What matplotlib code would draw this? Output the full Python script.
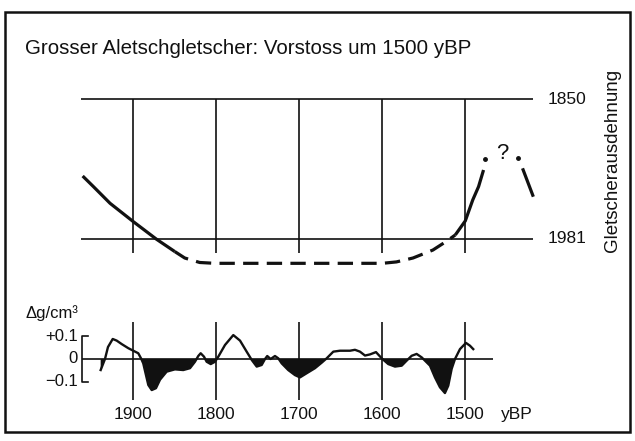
import matplotlib
matplotlib.use("Agg")
import matplotlib.pyplot as plt
import numpy as np
from matplotlib.patches import Rectangle

plt.rcParams['font.family'] = ['Liberation Sans', 'DejaVu Sans']

# glacier extent (1 = 1850 level, 0 = 1981 level)
solid_yr = [1961, 1948, 1928, 1900, 1872, 1850]
solid_ext = [0.45, 0.374, 0.255, 0.124, -0.002, -0.09]
dash_yr = [1850, 1838, 1820, 1802, 1700, 1600, 1583, 1563, 1539, 1522, 1512]
dash_ext = [-0.09, -0.136, -0.168, -0.174, -0.174, -0.174, -0.164, -0.136, -0.079, -0.014, 0.029]
rise_yr = [1512, 1500, 1491, 1484, 1478]
rise_ext = [0.029, 0.129, 0.279, 0.374, 0.493]
fall_yr = [1431, 1418]
fall_ext = [0.505, 0.302]
dot_yr = [1476, 1436.5]
dot_ext = [0.57, 0.58]

# density anomaly (g/cm3)
dg_yr = [1939.3, 1934.1, 1930.5, 1924.8, 1920.0, 1914.0, 1906.0, 1900, 1894.0, 1890.7,
         1888.0, 1884.7, 1881.9, 1877.8, 1872.7, 1867.8, 1859.8, 1849.8, 1839.8, 1831.7,
         1825.7, 1821.7, 1818.8, 1814.8, 1811.6, 1806.7, 1801.6, 1797.6, 1789.5, 1779.5,
         1771.4, 1763.4, 1757.3, 1751.3, 1745.3, 1741.3, 1738.6, 1734.5, 1729.3, 1725.3,
         1721.2, 1713.3, 1705.2, 1699.2, 1691.1, 1681.1, 1673.0, 1667.0, 1659.0, 1651.0,
         1638.9, 1632.9, 1626.9, 1620.8, 1614.8, 1607.6, 1600.4, 1592.8, 1584.7, 1576.6,
         1570.6, 1564.6, 1558.6, 1552.5, 1548.6, 1542.5, 1536.5, 1530.5, 1524.5, 1520.5,
         1516.4, 1512.4, 1506.4, 1499.2, 1494.4, 1490.4]
dg_val = [-0.048, 0.0, 0.052, 0.087, 0.08, 0.065, 0.047, 0.036, 0.025, 0.003,
          -0.019, -0.07, -0.113, -0.135, -0.127, -0.09, -0.055, -0.045, -0.048, -0.04,
          -0.012, 0.013, 0.025, 0.01, -0.012, -0.022, -0.012, 0.01, 0.061, 0.104,
          0.08, 0.032, -0.004, -0.033, -0.026, 0.0, 0.013, 0.0, 0.013, 0.003,
          -0.019, -0.048, -0.07, -0.08, -0.062, -0.04, -0.016, 0.003, 0.032, 0.036,
          0.036, 0.04, 0.032, 0.015, 0.02, 0.03, 0.002, -0.022, -0.033, -0.029,
          -0.007, 0.014, 0.022, 0.007, -0.007, -0.029, -0.08, -0.123, -0.148, -0.116,
          -0.043, 0.0, 0.043, 0.07, 0.058, 0.043]

grid_years = [1900, 1800, 1700, 1600, 1500]

W, H = 635, 441
fig = plt.figure(figsize=(W / 100, H / 100), dpi=100)
ink = '#111111'

def box(l, t, r, b):
    return [l / W, 1 - b / H, (r - l) / W, (b - t) / H]

# frame
fig.patches.append(Rectangle((5 / W, 1 - 432 / H), 625 / W, 420 / H, transform=fig.transFigure,
                             fill=False, lw=1.8, ec=ink))

fig.text(25 / W, 1 - 48 / H, 'Grosser Aletschgletscher: Vorstoss um 1500 yBP',
         fontsize=14.8, ha='left', va='center', color=ink)

# top panel
ax1 = fig.add_axes(box(81, 95, 533, 265))
ax1.set_xlim(1963, 1418.4)
ax1.set_ylim(-0.186, 1.029)
ax1.axis('off')
ax1.axhline(1, color=ink, lw=1.2)
ax1.axhline(0, color=ink, lw=1.2)
ax1.vlines(grid_years, -0.1, 1, color=ink, lw=1.2)
ax1.plot(solid_yr, solid_ext, color=ink, lw=2.3, solid_capstyle='butt', clip_on=False)
ax1.plot(dash_yr, dash_ext, color=ink, lw=2.3, ls=(0, (4.8, 2.6)), clip_on=False)
ax1.plot(rise_yr, rise_ext, color=ink, lw=2.3, solid_capstyle='butt', clip_on=False)
ax1.plot(fall_yr, fall_ext, color=ink, lw=2.3, solid_capstyle='butt', clip_on=False)
ax1.plot(dot_yr, dot_ext, 'o', color=ink, ms=2.5, clip_on=False)
ax1.text(1455, 0.61, '?', fontsize=16, ha='center', va='center', color=ink)
ax1.text(1400.4, 1, '1850', fontsize=12.5, ha='left', va='center', color=ink)
ax1.text(1400.4, 0, '1981', fontsize=12.5, ha='left', va='center', color=ink)
fig.text(612 / W, 1 - 160 / H, 'Gletscherausdehnung', rotation=90, fontsize=13.5,
         ha='center', va='center', color=ink)

# bottom panel
ax2 = fig.add_axes(box(81, 320, 533, 402))
ax2.set_xlim(1963, 1418.4)
ax2.set_ylim(-0.187, 0.1696)
ax2.axis('off')
ax2.hlines(0, 1961.5, 1467, color=ink, lw=1.2)
ax2.vlines(grid_years, -0.178, 0.161, color=ink, lw=1.2)
yr = np.array(dg_yr)
dg = np.array(dg_val)
ax2.fill_between(yr, dg, 0, where=dg < 0, interpolate=True, color=ink, lw=0)
ax2.plot(yr, dg, color=ink, lw=1.7)
ax2.plot([1954, 1961.5, 1961.5, 1954], [0.1, 0.1, -0.1, -0.1], color=ink, lw=1.2, clip_on=False)
for v, s in [(0.1, '+0.1'), (0, '0'), (-0.1, '\u22120.1')]:
    ax2.text(1966.6, v, s, fontsize=12, ha='right', va='center', color=ink)
for g in grid_years:
    ax2.text(g, -0.243, str(g), fontsize=12.5, ha='center', va='center', color=ink, clip_on=False)
ax2.text(1457, -0.243, 'yBP', fontsize=12.5, ha='left', va='center', color=ink)
fig.text(25 / W, 1 - 313 / H, '\u0394g/cm\u00b3', fontsize=12, ha='left', va='center', color=ink)

fig.savefig('out.png', dpi=100)
